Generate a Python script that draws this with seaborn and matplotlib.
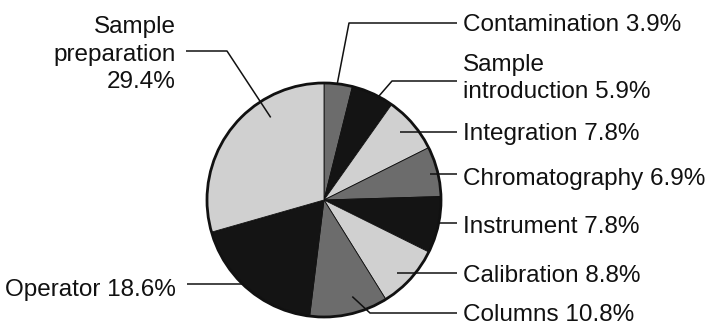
import numpy as np
import matplotlib
matplotlib.use("Agg")
import matplotlib.pyplot as plt
from matplotlib.patches import Circle
import seaborn as sns

# Sources of error in the analysis, clockwise from 12 o'clock
categories = ["Contamination", "Sample\nintroduction", "Integration", "Chromatography",
              "Instrument", "Calibration", "Columns", "Operator", "Sample\npreparation"]
shares = [3.9, 5.9, 7.8, 6.9, 7.8, 8.8, 10.8, 18.6, 29.4]
shade_index = [1, 2, 0, 1, 2, 0, 1, 2, 0]   # 0 light, 1 mid grey, 2 black

sns.set_theme(style="white")
plt.rcParams["font.family"] = ["Liberation Sans", "DejaVu Sans"]

W, H = 707, 325
fig = plt.figure(figsize=(W / 100, H / 100), dpi=100)
ax = fig.add_axes([0, 0, 1, 1])

shades = sns.color_palette(["#d0d0d0", "#6c6c6c", "#141414"])
colors = [shades[i] for i in shade_index]

cx, cy, R = 324, H - 200, 117
wedges, _ = ax.pie(shares, colors=colors, startangle=90, counterclock=False,
                   center=(cx, cy), radius=R, frame=True,
                   wedgeprops=dict(edgecolor="#111111", linewidth=0.6))
ax.set_xlim(0, W)
ax.set_ylim(0, H)
ax.set_aspect("equal")
ax.axis("off")
ax.add_patch(Circle((cx, cy), R, fill=False, edgecolor="#111111", linewidth=2.0, zorder=5))

# Leader layout: where the line leaves the wedge (fraction along wedge, fraction of radius),
# optional elbow (x, y in px from top), line end x, last-line baseline (px from top), side
layout = [
    (0.46, 0.99, (349, 23), 457, 31, "right"),
    (0.64, 0.99, (392, 81), 457, 98, "right"),
    (0.46, 0.87, None, 457, 140, "right"),
    (0.52, 0.93, None, 457, 185, "right"),
    (0.47, 0.99, None, 457, 233, "right"),
    (0.58, 0.88, None, 457, 282, "right"),
    (0.40, 0.86, (370, 313), 457, 321, "right"),
    (0.555, 1.00, None, 187, 296, "left"),
    (0.69, 0.84, (227, 51), 186, 88, "left"),
]

for w, name, val, (f, rf, elbow, xend, ty, side) in zip(wedges, categories, shares, layout):
    ang = np.deg2rad(w.theta2 - f * (w.theta2 - w.theta1))
    x0, y0 = cx + rf * R * np.cos(ang), cy + rf * R * np.sin(ang)
    if elbow is None:
        xs, ys = [x0, xend], [y0, y0]
    else:
        xs, ys = [x0, elbow[0], xend], [y0, H - elbow[1], H - elbow[1]]
    ax.plot(xs, ys, color="#111111", linewidth=1.1, zorder=6, solid_capstyle="butt")
    sep = "\n" if (side == "left" and "\n" in name) else " "
    txt = f"{name}{sep}{val}%"
    if side == "right":
        ax.text(463, H - ty, txt, ha="left", va="baseline", fontsize=17.5,
                color="#111111", linespacing=1.32)
    else:
        ax.text(176, H - ty, txt, ha="right", va="baseline", fontsize=17.5,
                color="#111111", linespacing=1.32, multialignment="right")

fig.savefig("out.png", dpi=100)
